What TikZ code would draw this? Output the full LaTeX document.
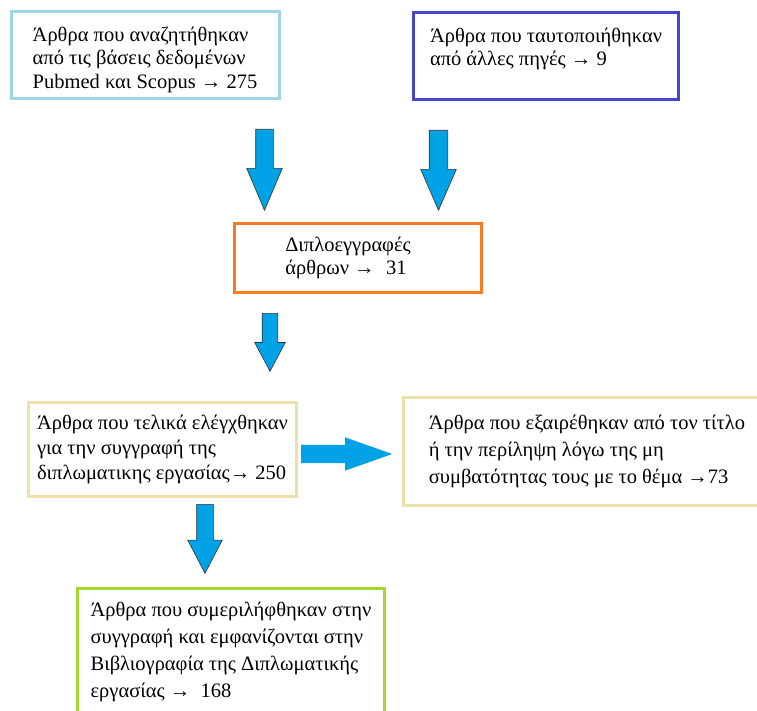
\documentclass[tikz,border=0pt]{standalone}
\usepackage{fontspec}
\setmainfont{Liberation Serif}
\usetikzlibrary{shapes.arrows}
\definecolor{boxblue}{HTML}{9FD6E6}
\definecolor{boxviolet}{HTML}{4646CC}
\definecolor{boxorange}{HTML}{F77B22}
\definecolor{boxtan}{HTML}{EDE0A8}
\definecolor{boxgreen}{HTML}{A6D62A}
\definecolor{arrowfill}{HTML}{00A2E6}

\begin{document}
\begin{tikzpicture}[x=1pt,y=-1pt,
		box/.style={draw,line width=3pt,rectangle,align=left,inner sep=0pt,font=\fontsize{20.5}{23.5}\selectfont},
		blockdown/.style={single arrow,draw=black!80,line width=0.6pt,fill=arrowfill,inner ysep=0pt,shape border rotate=270,single arrow head indent=0pt,anchor=tail},
		blockright/.style={single arrow,draw=none,fill=arrowfill,inner xsep=0pt,single arrow head indent=0pt,anchor=tail}]
		\clip (0,0) rectangle (757,711);
		\fill[white] (0,0) rectangle (757,711);
		\node[box,draw=boxblue,minimum width=268,minimum height=87] (src) at (145,55) {\rule{0pt}{24pt}Άρθρα που αναζητήθηκαν\\από τις βάσεις δεδομένων\\Pubmed και Scopus → 275};
		\node[box,draw=boxviolet,minimum width=265,minimum height=87] (oth) at (546,56) {Άρθρα που ταυτοποιήθηκαν\\από άλλες πηγές → 9\rule[-18pt]{0pt}{0pt}};
		\node[box,draw=boxorange,minimum width=247,minimum height=69] (dup) at (358,258) {Διπλοεγγραφές\\άρθρων →\hspace{11.5pt}31\hspace*{24pt}};
		\node[box,draw=boxtan,minimum width=268,minimum height=94,font=\fontsize{20.5}{25}\selectfont] (scr) at (162.5,449.5) {Άρθρα που τελικά ελέγχθηκαν\\για την συγγραφή της\\διπλωματικης εργασίας→ 250};
		\node[box,draw=boxtan,minimum width=368,minimum height=108,font=\fontsize{20.5}{27}\selectfont] (exc) at (587,451.5) {Άρθρα που εξαιρέθηκαν από τον τίτλο\\ή την περίληψη λόγω της μη\\συμβατότητας τους με το θέμα →73};
		\node[box,draw=boxgreen,minimum width=307,minimum height=128,font=\fontsize{20.5}{27}\selectfont] (inc) at (231,652) {Άρθρα που συμεριλήφθηκαν στην\\συγγραφή και εμφανίζονται στην\\Βιβλιογραφία της Διπλωματικής\\εργασίας →\ \ 168};
		\node[blockdown,inner xsep=8.5,minimum height=81,minimum width=35,single arrow head extend=9,single arrow tip angle=46] (arrsrc) at (264.5,129) {};
		\node[blockdown,inner xsep=9,minimum height=80,minimum width=35,single arrow head extend=8.5,single arrow tip angle=47] (arroth) at (438.5,130) {};
		\node[blockdown,inner xsep=7.5,minimum height=58,minimum width=30,single arrow head extend=7.5,single arrow tip angle=56] (arrdup) at (270,313) {};
		\node[blockright,inner ysep=9,minimum height=91,minimum width=33,single arrow head extend=7.5,single arrow tip angle=39] (arrexc) at (301,454) {};
		\node[blockdown,inner xsep=8,minimum height=69,minimum width=34,single arrow head extend=9,single arrow tip angle=55] (arrscr) at (205,504) {};
	\end{tikzpicture}
\end{document}
